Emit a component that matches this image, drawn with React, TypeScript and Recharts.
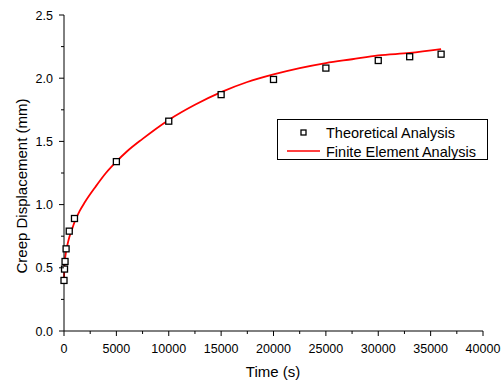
import {
  ComposedChart,
  Line,
  Scatter,
  XAxis,
  YAxis,
} from "recharts";

const FONT = "Arial, 'Liberation Sans', sans-serif";
const RED = "#ff0000";

// theoretical analysis points (time in s, displacement in mm)
const theoryTime = [0, 50, 100, 200, 500, 1000, 5000, 10000, 15000, 20000, 25000, 30000, 33000, 36000];
const theoryDisp = [0.4, 0.49, 0.55, 0.65, 0.79, 0.89, 1.34, 1.66, 1.87, 1.99, 2.08, 2.14, 2.17, 2.19];

// finite element curve
const feaTime = [0, 20, 50, 100, 200, 350, 500, 750, 1000, 1500, 2000, 3000, 4000, 5000, 6000, 7500, 10000, 12500, 15000, 17500, 20000, 22500, 25000, 27500, 30000, 33000, 36000];
const feaDisp = [0.41, 0.47, 0.52, 0.57, 0.63, 0.69, 0.74, 0.8, 0.86, 0.95, 1.02, 1.14, 1.25, 1.34, 1.42, 1.52, 1.67, 1.79, 1.89, 1.97, 2.03, 2.08, 2.12, 2.15, 2.18, 2.2, 2.23];

const xTicks = [0, 2500, 5000, 7500, 10000, 12500, 15000, 17500, 20000, 22500, 25000, 27500, 30000, 32500, 35000, 37500, 40000];
const yTicks = [0, 0.25, 0.5, 0.75, 1, 1.25, 1.5, 1.75, 2, 2.25, 2.5];

const theoryData = theoryTime.map((t, i) => ({ t, v: theoryDisp[i] }));
const feaData = feaTime.map((t, i) => ({ t, v: feaDisp[i] }));

function XTick({ x, y, payload }: any) {
  const major = payload.value % 5000 === 0;
  return (
    <g>
      <line x1={x} x2={x} y1={y} y2={y + (major ? 5 : 3)} stroke="#000" />
      {major && (
        <text x={x} y={y + 22} textAnchor="middle" fontSize={12.5} fontFamily={FONT} fill="#000">
          {payload.value}
        </text>
      )}
    </g>
  );
}

function YTick({ x, y, payload }: any) {
  const major = Math.round(payload.value * 100) % 50 === 0;
  return (
    <g>
      <line x1={x - (major ? 5 : 3)} x2={x} y1={y} y2={y} stroke="#000" />
      {major && (
        <text x={x - 11} y={y + 4.5} textAnchor="end" fontSize={12.5} fontFamily={FONT} fill="#000">
          {payload.value.toFixed(1)}
        </text>
      )}
    </g>
  );
}

function Square({ cx, cy }: any) {
  return <rect x={cx - 3} y={cy - 3} width={6} height={6} fill="#fff" stroke="#000" strokeWidth={1.3} />;
}

function LegendBox() {
  return (
    <div
      style={{
        position: "absolute",
        left: 277,
        top: 119,
        border: "1px solid #000",
        width: 209,
        height: 39,
        background: "#fff",
      }}
    >
      <svg width={209} height={39} style={{ display: "block" }}>
        <rect x={23} y={10} width={5} height={5} fill="#fff" stroke="#000" strokeWidth={1.3} />
        <text x={48} y={18} fontSize={14.5} fontFamily={FONT}>Theoretical Analysis</text>
        <line x1={9} x2={42} y1={31} y2={31} stroke={RED} strokeWidth={1.3} />
        <text x={48} y={37} fontSize={14.5} fontFamily={FONT}>Finite Element Analysis</text>
      </svg>
    </div>
  );
}

export default function App() {
  return (
    <div style={{ position: "absolute", left: 0, top: 0, width: 504, height: 383, background: "#fff" }}>
      <ComposedChart width={504} height={383} margin={{ top: 15, right: 21, bottom: 0, left: 0 }}>
        <XAxis
          dataKey="t"
          type="number"
          domain={[0, 40000]}
          ticks={xTicks}
          interval={0}
          tickSize={0}
          tickMargin={0}
          tickLine={false}
          tick={<XTick />}
          axisLine={{ stroke: "#000" }}
          height={52}
          label={{
            content: () => (
              <text x={273} y={377} textAnchor="middle" fontSize={15} fontFamily={FONT} fill="#000">
                Time (s)
              </text>
            ),
          }}
        />
        <YAxis
          dataKey="v"
          type="number"
          domain={[0, 2.5]}
          ticks={yTicks}
          interval={0}
          tickSize={0}
          tickMargin={0}
          tickLine={false}
          tick={<YTick />}
          axisLine={{ stroke: "#000" }}
          width={64}
          label={{
            content: () => (
              <text
                x={27}
                y={186}
                transform="rotate(-90 27 186)"
                textAnchor="middle"
                fontSize={15}
                fontFamily={FONT}
                fill="#000"
              >
                Creep Displacement (mm)
              </text>
            ),
          }}
        />
        <Line
          data={feaData}
          dataKey="v"
          type="monotone"
          stroke={RED}
          strokeWidth={1.8}
          dot={false}
          isAnimationActive={false}
        />
        <Scatter data={theoryData} dataKey="v" shape={<Square />} isAnimationActive={false} />
      </ComposedChart>
      <LegendBox />
    </div>
  );
}
